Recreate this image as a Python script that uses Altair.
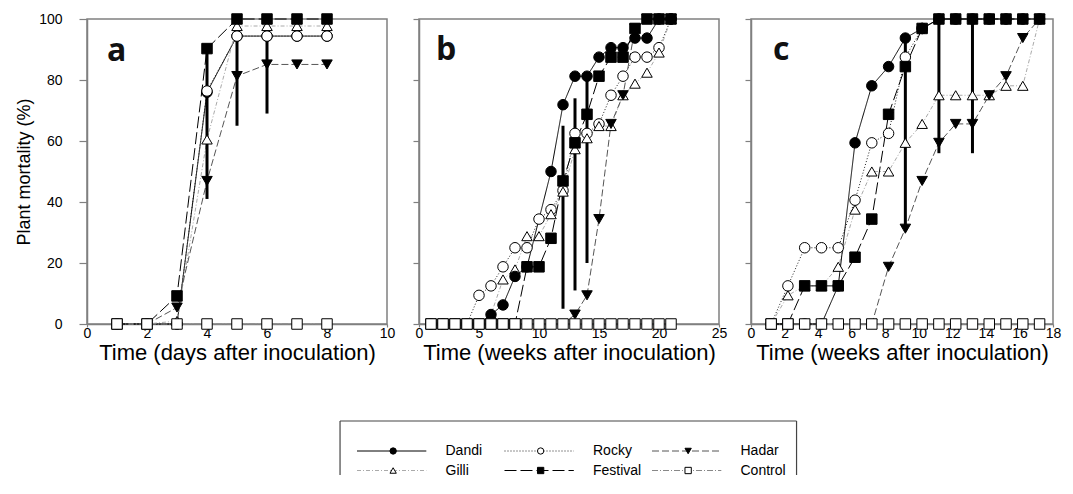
import altair as alt
import pandas as pd
import numpy as np

NAN = np.nan

# ---------------- data: panel a (days) ----------------
a_t = [1, 2, 3, 4, 5, 6, 7, 8]
a_dandi = [0, 0, 0, 76, 94.4, 94.4, 94.4, 94.4]
a_rocky = [0, 0, 0, 76.4, 94.4, 94.4, 94.4, 94.4]
a_gilli = [0, 0, 1, 60.5, 97.7, 97.7, 97.7, 97.7]
a_hadar = [0, 0, 5.4, 46.9, 81.3, 85.1, 85.1, 85.1]
a_festival = [0, 0, 9.2, 90.3, 100, 100, 100, 100]
a_control = [0, 0, 0, 0, 0, 0, 0, 0]
a_err_t = [4, 5, 6]
a_err_lo = [41, 65, 69]
a_err_hi = [90, 100, 100]

# ---------------- data: panel b (weeks) ----------------
b_t = list(range(1, 22))
b_dandi = [0, 0, 0, 0, 0, 3.1, 6.25, 15.6, 18.75, NAN, 50, 71.9, 81.25, 81.25,
           87.5, 90.6, 90.6, 93.75, 93.75, 100, 100]
b_rocky = [0, 0, 0, 0, 9.4, 12.5, 18.75, 25, 25, 34.4, 37.5, 43.75, 62.5, 62.5,
           65.6, 75, 81.25, 87.5, 87.5, 90.6, 100]
b_gilli = [0, 0, 0, 0, 0, 3.1, 14.6, 17.9, 28.8, 28.8, 36, 43.4, 57.3, 60.9,
           64.9, 64.9, 75, 78.8, 82.4, 89, 100]
b_hadar = [0, 0, 0, 0, 0, 0, 0, 0, 0, 0, 0, 0, 3.1, 9.4, 34.4, 65.6, 75, 96.9,
           100, 100, 100]
b_festival = [0, 0, 0, 0, 0, 0, 0, 0, 18.75, 18.75, 28.1, 46.9, 59.4, 68.75,
              81.25, 87.5, 87.5, 96.9, 100, 100, 100]
b_control = [0] * 21
b_err_t = [12, 13, 14]
b_err_lo = [5, 11, 20]
b_err_hi = [65, 74, 81]

# ---------------- data: panel c (weeks) ----------------
c_t = [1.2, 2.2, 3.2, 4.2, 5.2, 6.2, 7.2, 8.2, 9.2, 10.2, 11.2, 12.2, 13.2,
       14.2, 15.2, 16.2, 17.2]
c_dandi = [0, 0, 0, 0, 12.5, 59.4, 78.1, 84.4, 93.75, 96.9, 100, 100, 100, 100,
           100, 100, 100]
c_rocky = [0, 12.5, 25, 25, 25, 40.6, 59.4, 62.5, 87.5, 96.9, NAN, NAN, NAN,
           NAN, NAN, NAN, NAN]
c_gilli = [0, 9.4, 12.5, 12.5, 18.75, 37.5, 50, 50, 59.4, 65.6, 75, 75, 75, 75,
           78.1, 78.1, 100]
c_hadar = [0, 0, 0, 0, 0, 0, 0, 18.75, 31.25, 46.9, 59.4, 65.6, 65.6, 75,
           81.25, 93.75, 100]
c_festival = [0, 0, 12.5, 12.5, 12.5, 21.9, 34.4, 68.75, 84.4, 96.9, 100, 100,
              100, 100, 100, 100, 100]
c_control = [0] * 17
c_err_t = [9.2, 11.2, 13.2]
c_err_lo = [31, 56, 56]
c_err_hi = [94, 100, 100]

# legend layout (names in reading order)
leg_names = ["Dandi", "Gilli", "Rocky", "Festival", "Hadar", "Control"]
leg_col = [0, 0, 1, 1, 2, 2]
leg_row = [0, 1, 0, 1, 0, 1]

# ---------------- styles ----------------
STYLE = {
    "Dandi":    dict(color="black",   dash=[1, 0],        shape="circle",        fill="black"),
    "Rocky":    dict(color="#222222", dash=[1, 2],        shape="circle",        fill="white"),
    "Gilli":    dict(color="#aaaaaa", dash=[4, 2, 1, 2],  shape="triangle-up",   fill="white"),
    "Hadar":    dict(color="#555555", dash=[7, 3],        shape="triangle-down", fill="black"),
    "Festival": dict(color="black",   dash=[12, 4],       shape="square",        fill="black"),
    "Control":  dict(color="#888888", dash=[6, 2, 1, 2],  shape="square",        fill="white"),
}

FONT = "Liberation Sans"
AXC = "#808080"


def long_df(t, d):
    rows = []
    for s, vals in d.items():
        for ti, v in zip(t, vals):
            if not (isinstance(v, float) and np.isnan(v)):
                rows.append({"series": s, "t": ti, "v": v})
    return pd.DataFrame(rows)


def panel(df, err, order, xdom, xvals, width, letter, lpos, xtitle, ylabels):
    xscale = alt.Scale(domain=xdom, nice=False, zero=False)
    yscale = alt.Scale(domain=[0, 100], nice=False)
    xaxis = alt.Axis(values=xvals, title=xtitle, titlePadding=2, labelPadding=-1,
                     tickSize=3, titleFontSize=22, labelFlush=False)
    if ylabels:
        yaxis = alt.Axis(values=[0, 20, 40, 60, 80, 100], labels=True,
                         title="Plant mortality (%)", tickSize=8, labelPadding=17,
                         titlePadding=5, titleFontSize=18, labelFlush=False)
    else:
        yaxis = alt.Axis(values=[0, 20, 40, 60, 80, 100], labels=False, title="",
                         tickSize=6)
    X = alt.X("t:Q", scale=xscale, axis=xaxis)
    Y = alt.Y("v:Q", scale=yscale, axis=yaxis)
    base = alt.Chart(df)
    lines = []
    points = []
    for s in order:
        st = STYLE[s]
        sub = base.transform_filter(alt.datum.series == s)
        lines.append(sub.mark_line(color=st["color"], strokeDash=st["dash"],
                                   strokeWidth=1).encode(x=X, y=Y))
        points.append(sub.mark_point(shape=st["shape"], filled=True, fill=st["fill"],
                                     stroke="black", strokeWidth=1, size=110,
                                     opacity=1).encode(x=X, y=Y))
    rules = alt.Chart(err).mark_rule(color="black", strokeWidth=3).encode(
        x=alt.X("t:Q", scale=xscale, axis=xaxis),
        y=alt.Y("lo:Q", scale=yscale, axis=yaxis),
        y2="hi:Q")
    lab = alt.Chart(pd.DataFrame({"k": [letter]})).mark_text(
        font="Open Sans", fontSize=32, fontWeight="bold", align="left",
        baseline="alphabetic", color="#111111").encode(
        x=alt.value(lpos[0]), y=alt.value(lpos[1]), text="k:N")
    return alt.layer(*lines, rules, *points, lab).properties(
        width=width, height=305,
        view=alt.ViewBackground(stroke=AXC, strokeWidth=1.5))


df_a = long_df(a_t, {"Dandi": a_dandi, "Rocky": a_rocky, "Gilli": a_gilli,
                     "Hadar": a_hadar, "Festival": a_festival, "Control": a_control})
df_b = long_df(b_t, {"Dandi": b_dandi, "Rocky": b_rocky, "Gilli": b_gilli,
                     "Hadar": b_hadar, "Festival": b_festival, "Control": b_control})
df_c = long_df(c_t, {"Dandi": c_dandi, "Rocky": c_rocky, "Gilli": c_gilli,
                     "Hadar": c_hadar, "Festival": c_festival, "Control": c_control})
err_a = pd.DataFrame({"t": a_err_t, "lo": a_err_lo, "hi": a_err_hi})
err_b = pd.DataFrame({"t": b_err_t, "lo": b_err_lo, "hi": b_err_hi})
err_c = pd.DataFrame({"t": c_err_t, "lo": c_err_lo, "hi": c_err_hi})

order_a = ["Dandi", "Rocky", "Gilli", "Hadar", "Festival", "Control"]
order_bc = ["Rocky", "Gilli", "Hadar", "Festival", "Dandi", "Control"]

pa = panel(df_a, err_a, order_a, [0, 10], [0, 2, 4, 6, 8, 10], 300, "a", (20, 42),
           "Time (days after inoculation)", True)
pb = panel(df_b, err_b, order_bc, [0, 25], [0, 5, 10, 15, 20, 25], 300, "b", (17, 41),
           "Time (weeks after inoculation)", False)
pc = panel(df_c, err_c, order_bc, [0, 18], list(range(0, 19, 2)), 302, "c", (22, 41),
           "Time (weeks after inoculation)", False)

top = alt.hconcat(pa, pb, pc, spacing=32, bounds="flush")

# ---------------- legend ----------------
leg = pd.DataFrame({"name": leg_names, "col": leg_col, "row": leg_row})
leg["x0"] = leg["col"]
leg["x1"] = leg["col"] + 0.47
leg["xm"] = leg["col"] + 0.245
leg["xt"] = leg["col"] + 0.6

LW, LH = 950, 54
LX0 = 90.0
ROW0 = 30
u_lo = (LX0 - 360) / 147.5
u_hi = (LX0 + LW - 360) / 147.5
lxs = alt.Scale(domain=[u_lo, u_hi], nice=False, zero=False)
lys = alt.Scale(domain=[(LH - ROW0) / 19.5, -ROW0 / 19.5], nice=False, zero=False)

lbase = alt.Chart(leg)
llayers = []
for s in leg_names:
    st = STYLE[s]
    sub = lbase.transform_filter(alt.datum.name == s)
    llayers.append(sub.mark_rule(color=st["color"], strokeDash=st["dash"], strokeWidth=1).encode(
        x=alt.X("x0:Q", scale=lxs, axis=None), x2="x1:Q",
        y=alt.Y("row:Q", scale=lys, axis=None)))
    llayers.append(sub.mark_point(shape=st["shape"], filled=True, fill=st["fill"],
                                  stroke="black", strokeWidth=1, size=40, opacity=1).encode(
        x=alt.X("xm:Q", scale=lxs, axis=None), y=alt.Y("row:Q", scale=lys, axis=None)))
text_layer = lbase.mark_text(font=FONT, fontSize=14, align="left", baseline="middle",
                             color="black").encode(
    x=alt.X("xt:Q", scale=lxs, axis=None), y=alt.Y("row:Q", scale=lys, axis=None),
    text="name:N")
box = pd.DataFrame({"bl": [-0.115], "br": [2.98]})
box_l = alt.Chart(box).mark_rule(color="#444444", strokeWidth=1.2).encode(
    x=alt.X("bl:Q", scale=lxs, axis=None), y=alt.value(0), y2=alt.value(LH))
box_r = alt.Chart(box).mark_rule(color="#444444", strokeWidth=1.2).encode(
    x=alt.X("br:Q", scale=lxs, axis=None), y=alt.value(0), y2=alt.value(LH))
box_t = alt.Chart(box).mark_rule(color="#444444", strokeWidth=1.2).encode(
    x=alt.X("bl:Q", scale=lxs, axis=None), x2="br:Q", y=alt.value(0))
legend = alt.layer(box_l, box_r, box_t, *llayers, text_layer).properties(width=LW, height=LH)

chart = alt.vconcat(top, legend, spacing=56).properties(
    padding={"left": 6, "top": 3, "right": 0, "bottom": 0}
).configure_view(strokeWidth=0).configure_axis(
    labelFont=FONT, labelFontSize=14, titleFont=FONT, titleFontSize=16,
    titleFontWeight="normal", labelColor="black", titleColor="black",
    domainColor=AXC, domainWidth=1.5, tickColor=AXC, tickWidth=1.2, grid=False
)

chart.save("out.html", embed_options={"renderer": "svg", "actions": False})
